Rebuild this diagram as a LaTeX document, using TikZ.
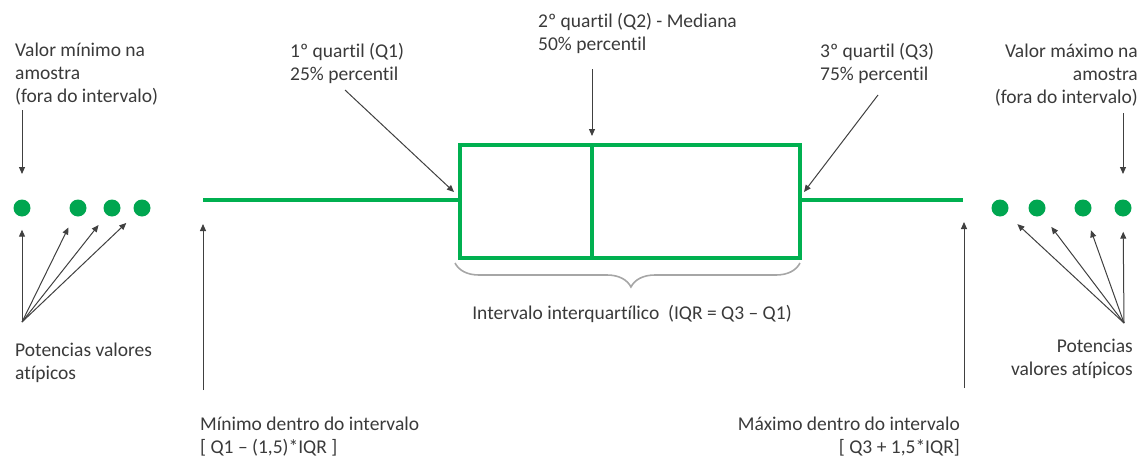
\documentclass[tikz,border=0pt]{standalone}
\usepackage{fontspec}
\setmainfont{Carlito}[Ligatures={NoCommon}]
\usetikzlibrary{arrows.meta,decorations.pathreplacing}
\definecolor{boxgreen}{HTML}{00B050}
\definecolor{dotgreen}{HTML}{00A650}
\definecolor{txt}{HTML}{3A3A3A}
\definecolor{arr}{HTML}{404040}
\definecolor{brc}{HTML}{A6A6A6}
\begin{document}
\begin{tikzpicture}[x=1pt,y=-1pt,
  lbl/.style={font=\fontsize{19.5}{23}\selectfont, text=txt, inner sep=0pt},
  dot/.style={circle, fill=dotgreen, draw=none, minimum size=17pt, inner sep=0pt},
  gline/.style={draw=boxgreen, line width=4pt},
  pointer/.style={draw=arr, line width=1pt, -{Triangle[length=7pt,width=6pt]}},
  bracestyle/.style={draw=brc, line width=1.6pt, decorate, decoration={brace, mirror, amplitude=24pt, aspect=0.51}}
]
\useasboundingbox (0,0) rectangle (1141,458);

% box and whiskers
\coordinate (wl) at (203,200);
\coordinate (q1) at (458,200);
\coordinate (q3) at (798,200);
\coordinate (wr) at (963,200);
\draw[gline] (wl) -- (q1);
\draw[gline] (q3) -- (wr);
\node[draw=boxgreen, line width=4pt, minimum width=340pt, minimum height=113pt, inner sep=0pt, anchor=north west] (box) at (458,143) {};
\draw[gline] (592,143) coordinate (medtop) -- (592,256);

% outlier dots
\node[dot] (l1) at (22,208) {};
\node[dot] (l2) at (78,208) {};
\node[dot] (l3) at (112,208) {};
\node[dot] (l4) at (142,208) {};
\node[dot] (r1) at (1000,208) {};
\node[dot] (r2) at (1037,208) {};
\node[dot] (r3) at (1083,208) {};
\node[dot] (r4) at (1123,208) {};

% labels (base anchor = baseline of the last line)
\node[lbl, anchor=base west, align=left] (minval) at (15,102) {Valor mínimo na\\amostra\\(fora do intervalo)};
\node[lbl, anchor=base west, align=left] (q1lbl) at (290,80) {1º quartil (Q1)\\25\% percentil};
\node[lbl, anchor=base west, align=left] (q2lbl) at (538,50) {2º quartil (Q2) - Mediana\\50\% percentil};
\node[lbl, anchor=base west, align=left] (q3lbl) at (820,80) {3º quartil (Q3)\\75\% percentil};
\node[lbl, anchor=base east, align=right] (maxval) at (1138,103) {Valor máximo na\\amostra\\(fora do intervalo)};
\node[lbl, anchor=base west, align=left] (potl) at (15,379) {Potencias valores\\atípicos};
\node[lbl, anchor=base east, align=right] (potr) at (1133,375) {Potencias\\valores atípicos};
\node[lbl, anchor=base west, align=left] (minin) at (200,453) {Mínimo dentro do intervalo\\{[} Q1 – (1,5)*IQR ]};
\node[lbl, anchor=base east, align=right] (maxin) at (960,453) {Máximo dentro do intervalo\\{[} Q3 + 1,5*IQR]};
\node[lbl, anchor=base] (iqr) at (632,319) {Intervalo interquartílico\ \ (IQR = Q3 – Q1)};

% brace
\draw[bracestyle] (455,263) -- (800,263);

% pointer arrows
\coordinate (a1s) at (22,110);
\coordinate (a1e) at (22,174);
\draw[pointer] (a1s) -- (a1e);
\coordinate (a2s) at (345,90);
\coordinate (a2e) at (454,192);
\draw[pointer] (a2s) -- (a2e);
\coordinate (a3s) at (592,69);
\coordinate (a3e) at (592,136);
\draw[pointer] (a3s) -- (a3e);
\coordinate (a4s) at (878,95);
\coordinate (a4e) at (804,192);
\draw[pointer] (a4s) -- (a4e);
\coordinate (a5s) at (1123,113);
\coordinate (a5e) at (1123,174);
\draw[pointer] (a5s) -- (a5e);

\coordinate (mins) at (203,390);
\coordinate (mine) at (203,224);
\draw[pointer] (mins) -- (mine);
\coordinate (maxs) at (964,388);
\coordinate (maxe) at (964,222);
\draw[pointer] (maxs) -- (maxe);

\coordinate (pl) at (22,322);
\foreach \d in {l1,l2,l3,l4} \draw[pointer, shorten >=13pt] (pl) -- (\d);
\coordinate (pr) at (1124,323);
\foreach \d in {r1,r2,r3,r4} \draw[pointer, shorten >=15pt] (pr) -- (\d);
\end{tikzpicture}
\end{document}
